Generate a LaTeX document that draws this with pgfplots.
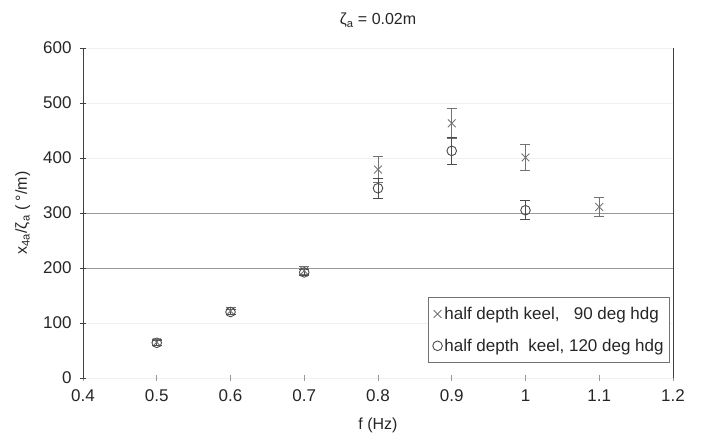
\documentclass[border=0pt]{standalone}
\usepackage{pgfplots}
\pgfplotsset{compat=1.18}
\usepackage{fontspec}
\setmainfont{Liberation Sans}
\begin{document}
\begin{tikzpicture}
\begin{axis}[
  scale only axis,
  width=590pt, height=330pt,
  xmin=0.4, xmax=1.2, ymin=0, ymax=600,
  xtick={0.4,0.5,...,1.2},
  ytick={0,100,...,600},
  xticklabels={0.4,0.5,0.6,0.7,0.8,0.9,1,1.1,1.2},
  separate axis lines,
  x axis line style={draw=none},
  y axis line style={draw=black!75, line width=0.9pt},
  xtick pos=bottom, ytick pos=left,
  tick align=center,
  major tick length=6pt,
  x tick style={draw=black!40, line width=0.6pt},
  y tick style={draw=black!75, line width=0.8pt},
  /pgf/number format/assume math mode=true,
  tick label style={font=\fontsize{17}{20}\selectfont, text=black!85},
  xticklabel style={yshift=-5pt},
  yticklabel style={xshift=-5pt},
  ymajorgrids,
  grid style={draw=black!6, line width=0.6pt},
  extra y ticks={200,300},
  extra y tick labels={},
  extra y tick style={grid=major, major grid style={draw=black!40, line width=0.9pt}, tick style={draw=none}},
  title={ζ\textsubscript{a} = 0.02m},
  title style={font=\fontsize{16}{19}\selectfont, text=black!85, yshift=11pt},
  xlabel={f (Hz)},
  ylabel={x\textsubscript{4a}/ζ\textsubscript{a} ( °/m)},
  label style={font=\fontsize{16}{19}\selectfont, text=black!85},
  xlabel style={yshift=-9pt},
  ylabel style={yshift=0pt},
  legend style={at={(0.995,0.045)}, anchor=south east, draw=black!55, line width=0.8pt, fill=white,
    font=\fontsize{17}{20}\selectfont, text=black!85, row sep=14pt, inner xsep=4pt, inner ysep=8pt},
  legend cell align=left,
  clip=false,
]
\addplot[only marks, mark=x, mark size=5.5pt, draw=black!55, line width=0.9pt,
  error bars/.cd, y dir=both, y explicit, error mark options={rotate=90, mark size=5pt, draw=black!55, line width=0.9pt},
  error bar style={draw=black!55, line width=0.9pt}]
  coordinates {
  (0.5,65) +- (0,5)
  (0.6,122) +- (0,6)
  (0.7,195) +- (0,7)
  (0.8,379) +- (0,24)
  (0.9,463) +- (0,27)
  (1.0,401) +- (0,23)
  (1.1,311) +- (0,18)
  };
\addlegendentry{half depth keel,\ \ \ 90 deg hdg}
\addplot[only marks, mark=o, mark size=4.8pt, draw=black!70, line width=0.9pt,
  error bars/.cd, y dir=both, y explicit, error mark options={rotate=90, mark size=5pt, draw=black!70, line width=0.9pt},
  error bar style={draw=black!70, line width=0.9pt}]
  coordinates {
  (0.5,64) +- (0,4)
  (0.6,120) +- (0,5)
  (0.7,192) +- (0,6)
  (0.8,345) +- (0,18)
  (0.9,413) +- (0,25)
  (1.0,305) +- (0,17)
  };
\addlegendentry{half depth\ \ keel, 120 deg hdg}
\path (rel axis cs:-0.1407,-0.1909) rectangle (rel axis cs:1.0492,1.1455);
\end{axis}
\end{tikzpicture}
\end{document}
